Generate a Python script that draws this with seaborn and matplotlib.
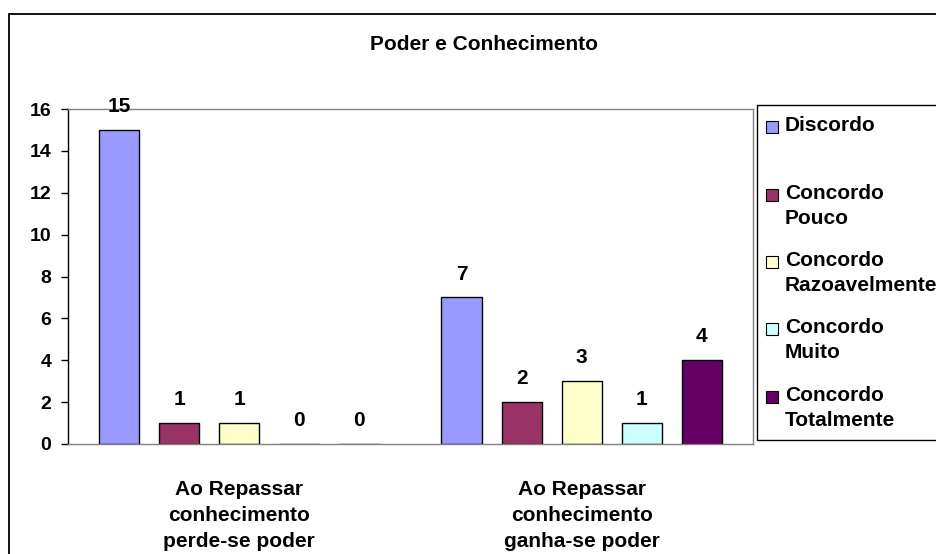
import matplotlib
matplotlib.use("Agg")
import matplotlib.pyplot as plt
from matplotlib.patches import Rectangle
import seaborn as sns
import pandas as pd

# Survey data: "Poder e Conhecimento"
chart_title = "Poder e Conhecimento"
categories = [
    "Ao Repassar\nconhecimento\nperde-se poder",
    "Ao Repassar\nconhecimento\nganha-se poder",
]
responses = [
    "Discordo",
    "Concordo\nPouco",
    "Concordo\nRazoavelmente",
    "Concordo\nMuito",
    "Concordo\nTotalmente",
]
counts_perde = [15, 1, 1, 0, 0]
counts_ganha = [7, 2, 3, 1, 4]
colors = ["#9999FF", "#993366", "#FFFFCC", "#CCFFFF", "#660066"]
y_ticks = [0, 2, 4, 6, 8, 10, 12, 14, 16]

df = pd.DataFrame({
    "categoria": [categories[0]] * len(responses) + [categories[1]] * len(responses),
    "resposta": responses * 2,
    "valor": counts_perde + counts_ganha,
})

sns.set_theme(style="white")
plt.rcParams["font.family"] = ["Liberation Sans", "DejaVu Sans"]
plt.rcParams["font.weight"] = "bold"
plt.rcParams["text.color"] = "black"
plt.rcParams["xtick.color"] = "black"
plt.rcParams["ytick.color"] = "black"
plt.rcParams["axes.labelcolor"] = "black"

W, H = 936, 554
FS = 15
fig = plt.figure(figsize=(W / 100, H / 100), dpi=100)
fig.patch.set_facecolor("white")


def fx(px):
    return px / W


def fy(py):
    return 1 - py / H


# outer chart frame (extends past the right and bottom edges)
fig.patches.append(Rectangle((fx(9), fy(560)), fx(940) - fx(9), fy(14) - fy(560),
                             transform=fig.transFigure, fill=False,
                             edgecolor="black", linewidth=1.3, zorder=0))

ax = fig.add_axes([fx(68), fy(444), fx(753) - fx(68), fy(109) - fy(444)])
sns.barplot(data=df, x="categoria", y="valor", hue="resposta",
            hue_order=responses, order=categories, palette=colors,
            saturation=1, width=0.877, gap=0.33, edgecolor="black",
            linewidth=1, legend=False, ax=ax)

for cont in ax.containers:
    ax.bar_label(cont, fmt="%d", padding=10, fontsize=FS, fontweight="bold",
                 color="black")

ax.set_ylim(0, 16)
ax.set_yticks(y_ticks)
ax.set_xlim(-0.5, 1.5)
ax.set_xlabel("")
ax.set_ylabel("")
ax.tick_params(axis="y", which="both", left=True, length=5, width=1,
               color="black", pad=7, labelsize=14, labelcolor="black")
ax.tick_params(axis="x", bottom=False, pad=20, labelsize=FS, labelcolor="black")
for lbl in ax.get_xticklabels():
    lbl.set_linespacing(1.45)
    lbl.set_fontweight("bold")
for lbl in ax.get_yticklabels():
    lbl.set_fontweight("bold")

for side, sp in ax.spines.items():
    sp.set_visible(True)
    sp.set_color("#808080")
    sp.set_linewidth(1)
ax.spines["left"].set_color("black")

fig.text(fx(484), fy(44), chart_title, ha="center", va="center",
         fontsize=FS, fontweight="bold", color="black")

# legend box
leg_top, leg_bottom, leg_left = 105, 440, 757
fig.patches.append(Rectangle((fx(leg_left), fy(leg_bottom)), fx(945) - fx(leg_left),
                             fy(leg_top) - fy(leg_bottom), transform=fig.transFigure,
                             fill=False, edgecolor="black", linewidth=1, zorder=1))
entry_y = [127, 195, 262, 329, 397]
sq = 12
for yc, label, color in zip(entry_y, responses, colors):
    fig.patches.append(Rectangle((fx(766), fy(yc + sq / 2)), fx(766 + sq) - fx(766),
                                 fy(yc - sq / 2) - fy(yc + sq / 2),
                                 transform=fig.transFigure, facecolor=color,
                                 edgecolor="black", linewidth=0.8, zorder=2))
    fig.text(fx(785), fy(yc - 11), label, ha="left", va="top", fontsize=FS,
             fontweight="bold", linespacing=1.43, color="black")

fig.savefig("out.png", dpi=100)
